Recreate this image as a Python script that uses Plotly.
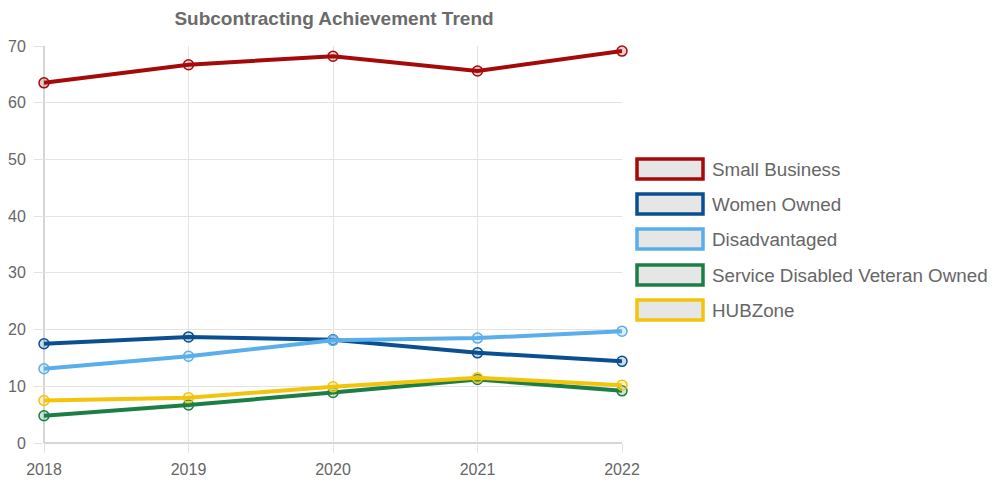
import plotly.graph_objects as go

years = [2018, 2019, 2020, 2021, 2022]
series_names = ["Small Business", "Women Owned", "Disadvantaged",
                "Service Disabled Veteran Owned", "HUBZone"]
small_business = [63.5, 66.7, 68.2, 65.6, 69.1]
women_owned = [17.5, 18.7, 18.2, 15.9, 14.4]
disadvantaged = [13.1, 15.3, 18.1, 18.5, 19.7]
sdvo = [4.8, 6.7, 8.9, 11.2, 9.2]
hubzone = [7.5, 8.0, 9.9, 11.5, 10.2]
values = [small_business, women_owned, disadvantaged, sdvo, hubzone]
colors = ["#a50a0a", "#0b4f91", "#5aaeea", "#1b7f45", "#f2c40c"]
fills = ["rgba(165,10,10,0.2)", "rgba(11,79,145,0.2)", "rgba(90,174,234,0.2)",
         "rgba(27,127,69,0.2)", "rgba(242,196,12,0.2)"]

OFF = 8  # page body margin
W, H = 995 - OFF, 485 - OFF
L, R, T, B = 44 - OFF, 622 - OFF, 46 - OFF, 443 - OFF

fig = go.Figure()
for name, vals, c, f in zip(series_names, values, colors, fills):
    fig.add_trace(go.Scatter(
        x=years, y=vals, name=name, mode="lines+markers",
        line=dict(color=c, width=4),
        marker=dict(size=10, color=f, line=dict(color=c, width=1.5)),
        showlegend=False, cliponaxis=False))

def px_x(p):
    return (p - OFF - L) / (R - L)

def px_y(p):
    return (B - (p - OFF)) / (B - T)

shapes = []
annotations = []
legend_y = [169, 204, 239, 275, 310]
for name, c, cy in zip(series_names, colors, legend_y):
    shapes.append(dict(type="rect", xref="paper", yref="paper",
                       x0=px_x(637), x1=px_x(703), y0=px_y(cy - 10), y1=px_y(cy + 10),
                       fillcolor="#e6e6e6", line=dict(color=c, width=3.5)))
    annotations.append(dict(xref="paper", yref="paper", x=px_x(710), y=px_y(cy),
                            xanchor="left", yanchor="middle", showarrow=False,
                            text=name, font=dict(size=18.8, color="#666666",
                                                 family="Liberation Sans, Arial, sans-serif")))

fig.update_layout(
    width=W, height=H,
    margin=dict(l=L, r=W - R, t=T, b=H - B),
    paper_bgcolor="white", plot_bgcolor="white",
    font=dict(family="Liberation Sans, Arial, sans-serif", color="#666666"),
    title=dict(text="<b>Subcontracting Achievement Trend</b>", x=px_x(334), xref="paper",
               xanchor="center", y=1 - (18 - OFF) / H, yref="container", yanchor="middle",
               automargin=False,
               font=dict(size=19, color="#6b6b6b", family="Liberation Sans, Arial")),
    xaxis=dict(range=[2018, 2022], tickvals=years, ticktext=[str(y) for y in years],
               showgrid=True, gridcolor="#e3e3e3", gridwidth=1, automargin=False,
               ticks="outside", ticklen=9, tickcolor="#e3e3e3", ticklabelstandoff=3,
               tickfont=dict(size=16, color="#666666"), zeroline=False,
               showline=False),
    yaxis=dict(range=[0, 70], dtick=10, showgrid=True, gridcolor="#e3e3e3", gridwidth=1,
               automargin=False,
               ticks="outside", ticklen=9, tickcolor="#e3e3e3", ticklabelstandoff=5,
               tickfont=dict(size=16, color="#666666"), zeroline=False, showline=False),
    shapes=shapes + [dict(type="line", xref="paper", yref="paper", x0=0, x1=1, y0=0, y1=0,
                          line=dict(color="#c8c8c8", width=1.5), layer="below"),
                     dict(type="line", xref="paper", yref="paper", x0=0, x1=0, y0=0, y1=1,
                          line=dict(color="#c8c8c8", width=1.5), layer="below")],
    annotations=annotations,
)

fig.write_html("out.html")
